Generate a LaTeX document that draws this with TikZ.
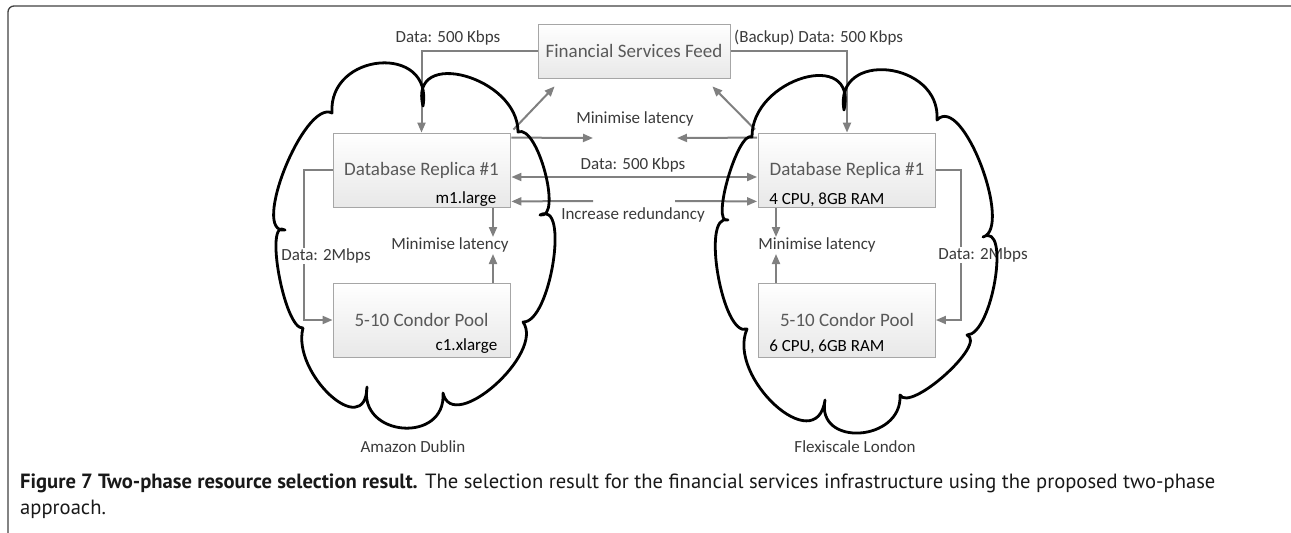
\documentclass[tikz,border=0pt]{standalone}
\usepackage{fontspec}
\setmainfont{Carlito}
\newfontfamily\capfont{PT Sans}
\usetikzlibrary{arrows.meta,calc}
\pgfdeclarelayer{bg}
\pgfdeclarelayer{mid}
\pgfsetlayers{bg,mid,main}
\definecolor{arrgray}{HTML}{808080}
\definecolor{boxline}{HTML}{A6A6A6}
\definecolor{titlegray}{HTML}{595959}
\definecolor{lblgray}{HTML}{3A3A3A}
\begin{document}
\begin{tikzpicture}[x=1pt,y=-1pt,
  box/.style={draw=boxline,line width=0.8pt,top color=white,bottom color=black!9,
    minimum width=177pt,minimum height=74pt,inner sep=0pt,
    font=\fontsize{19}{22}\selectfont,text=titlegray},
  lbl/.style={font=\fontsize{17}{20}\selectfont,text=lblgray,inner sep=1pt},
  sublbl/.style={font=\fontsize{17}{20}\selectfont,text=black,inner sep=0pt},
  arr/.style={draw=arrgray,line width=2pt,-{Triangle[length=10pt,width=8pt]}},
  dbl/.style={draw=arrgray,line width=2pt,{Triangle[length=10pt,width=8pt]}-{Triangle[length=10pt,width=8pt]}},
  cloudline/.style={draw=black,line width=2.8pt,line join=round},
  framel/.style={draw=black!75,line width=1.3pt,rounded corners=6pt}]
\useasboundingbox (0,0) rectangle (1291,533);

% frame
\draw[framel] (1291,6) -- (8,6) -- (8,533);

% boxes
\node[box,minimum width=192pt,minimum height=54pt] (feed) at (634,51) {Financial Services Feed};
\node[box] (ldb) at (421.5,170) {Database Replica \#1};
\node[box] (lcp) at (421.5,320) {5-10 Condor Pool};
\node[box] (rdb) at (847,170) {Database Replica \#1};
\node[box] (rcp) at (847,320) {5-10 Condor Pool};

\node[sublbl,anchor=east] (ldbsub) at ([shift={(-14,-8)}]ldb.south east) {m1.large};
\node[sublbl,anchor=east] (lcpsub) at ([shift={(-13,-11)}]lcp.south east) {c1.xlarge};
\node[sublbl,anchor=west] (rdbsub) at ([shift={(11,-8)}]rdb.south west) {4 CPU, 8GB RAM};
\node[sublbl,anchor=west] (rcpsub) at ([shift={(11,-11)}]rcp.south west) {6 CPU, 6GB RAM};

% free ends
\coordinate (mlA) at (593,138);
\coordinate (mlB) at (677,138);
\coordinate (irA) at (593,201);
\coordinate (irB) at (675,201);
\coordinate (ldown) at (493,237);
\coordinate (lup) at (493,254);
\coordinate (rdown) at (776,237);
\coordinate (rup) at (776,254);

\begin{pgfonlayer}{bg}
\draw[arr] (feed.west) -| (ldb.north);
\draw[arr] (feed.east) -| (rdb.north);
\draw[arr] ([shift={(3,-3)}]ldb.north east) -- ([shift={(17,8)}]feed.south west);
\draw[arr] ([shift={(-3,-3)}]rdb.north west) -- ([shift={(-18,8)}]feed.south east);
\draw[arr] ([shift={(1,5)}]ldb.north east) -- (mlA);
\draw[arr] ([shift={(-1,5)}]rdb.north west) -- (mlB);
\draw[dbl] ([shift={(1,7)}]ldb.east) -- ([shift={(-1,7)}]rdb.west);
\draw[arr] (irA) -- ([shift={(1,-6)}]ldb.south east);
\draw[arr] (irB) -- ([shift={(-1,-6)}]rdb.south west);
\draw[arr] (ldb.west) -- ++(-29,0) |- (lcp.west);
\draw[arr] (rdb.east) -- ++(25,0) |- (rcp.east);
\draw[arr] (ldb.south -| ldown) -- (ldown);
\draw[arr] (lcp.north -| lup) -- (lup);
\draw[arr] (rdb.south -| rdown) -- (rdown);
\draw[arr] (rcp.north -| rup) -- (rup);
\node[lbl,fill=white] (l2m) at (326,256) {Data: 2Mbps};
\node[lbl,fill=white] (r2m) at (983,255) {Data: 2Mbps};
\end{pgfonlayer}

% labels
\node[lbl] (t1) at (448,38) {Data: 500 Kbps};
\node[lbl,anchor=west] (t2) at (733,38) {(Backup) Data: 500 Kbps};
\node[lbl] (t3) at (635,119) {Minimise latency};
\node[lbl] (t4) at (633,165) {Data: 500 Kbps};
\node[lbl] (t5) at (633,215) {Increase redundancy};
\node[lbl] (t6) at (450,245) {Minimise latency};
\node[lbl] (t7) at (817,245) {Minimise latency};
\node[lbl] (amz) at (413,447) {Amazon Dublin};
\node[lbl] (flx) at (855,447) {Flexiscale London};

% clouds
\begin{pgfonlayer}{mid}
\draw[cloudline] (332,113)
  .. controls (328,51.6) and (433.6,43.4) .. (423,106)
  .. controls (408.1,46.6) and (518.3,76.8) .. (518,132)
  .. controls (537.5,123.4) and (563.1,219.6) .. (540,215)
  .. controls (570.1,199.1) and (550.3,323.3) .. (523,322)
  .. controls (545.4,353) and (452.6,435.4) .. (443,393)
  .. controls (446.4,444.2) and (358.2,437.2) .. (367,387)
  .. controls (365.4,441.7) and (291.2,373.3) .. (303,328)
  .. controls (284.4,330.5) and (263.6,216.9) .. (285,230)
  .. controls (249.9,234.7) and (304.5,98.9) .. cycle;
\draw[cloudline] (752,137)
  .. controls (751.3,78.5) and (858.1,47.1) .. (844,110)
  .. controls (833.3,49.2) and (941.1,60.8) .. (937,120)
  .. controls (962.6,92.6) and (1013.4,228.4) .. (983,237)
  .. controls (1011,221.2) and (992.4,334.8) .. (967,335)
  .. controls (987.7,343.5) and (909.9,413.1) .. (900,395)
  .. controls (902.7,441.9) and (815.7,447.7) .. (825,400)
  .. controls (816.5,459.7) and (726.1,377.3) .. (747,329)
  .. controls (722.5,338.4) and (700.5,212) .. (728,220)
  .. controls (710.1,225.9) and (737.9,129.7) .. cycle;
\end{pgfonlayer}

% caption
\node[anchor=base west,align=left,inner sep=0pt,font=\capfont\fontsize{20.6}{26}\selectfont,text=black!90] (cap) at (20,514)
  {\textbf{Figure 7 Two-phase resource selection result.} The selection result for the financial services infrastructure using the proposed two-phase\\approach.};
\end{tikzpicture}
\end{document}
